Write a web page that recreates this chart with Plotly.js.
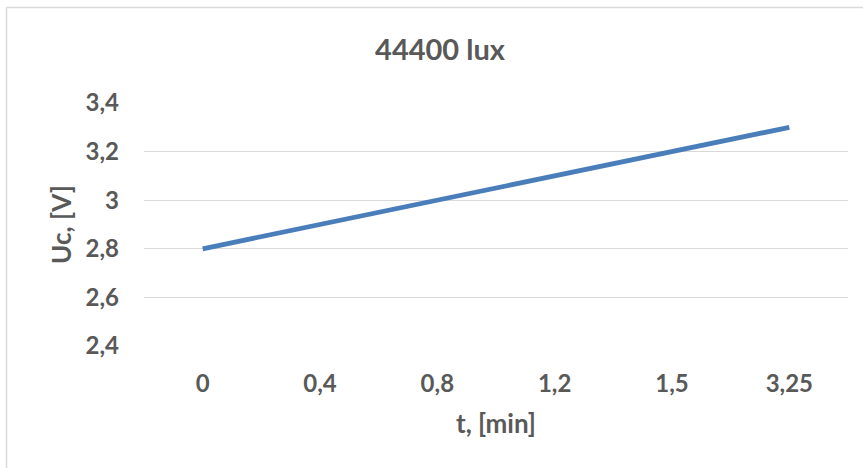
<!DOCTYPE html>
<html>
<head>
<meta charset="utf-8">
<script src="https://cdn.plot.ly/plotly-3.0.1.min.js"></script>
<style>html,body{margin:0;padding:0;background:#fff;}#chart{width:863px;height:468px;}</style>
</head>
<body>
<div id="chart"></div>
<script>
const tLabels = ['0', '0,4', '0,8', '1,2', '1,5', '3,25'];
const ucValues = [2.8, 2.9, 3.0, 3.1, 3.2, 3.3];
const yTicks = [2.4, 2.6, 2.8, 3.0, 3.2, 3.4];
const titleText = '44400 lux';
const xTitle = 't, [min]';
const yTitle = 'Uc, [V]';

const fontFam = 'Lato, "Open Sans", sans-serif';
const txt = '#595959';

const trace = {
  x: tLabels,
  y: ucValues,
  type: 'scatter',
  mode: 'lines',
  line: {color: '#4a7ebb', width: 4.8},
  hoverinfo: 'skip'
};

const W = 863, H = 468, L = 144, R = 15, T = 103, B = 122;
const pw = W - L - R, ph = H - T - B;
const px = v => (v - L) / pw;
const py = v => (H - B - v) / ph;

const layout = {
  width: W, height: H,
  margin: {l: L, r: R, t: T, b: B},
  paper_bgcolor: '#ffffff',
  plot_bgcolor: '#ffffff',
  separators: ', ',
  showlegend: false,
  font: {family: fontFam, color: txt},
  title: {
    text: '<b>' + titleText + '</b>',
    font: {size: 29, color: txt, family: fontFam},
    x: 440 / W, xanchor: 'center',
    y: 1 - 50 / H, yanchor: 'middle'
  },
  xaxis: {
    type: 'category',
    range: [-0.5, tLabels.length - 0.5],
    showgrid: false,
    zeroline: false,
    showline: false,
    ticks: '',
    ticklabelstandoff: 21,
    tickfont: {size: 24, color: txt, family: fontFam, weight: 'bold'},
    title: {text: '<b>' + xTitle + '</b>', font: {size: 26, color: txt, family: fontFam}, standoff: 18}
  },
  yaxis: {
    range: [2.4, 3.4],
    tickvals: yTicks,
    showgrid: true,
    gridcolor: '#d9d9d9',
    gridwidth: 1,
    zeroline: false,
    showline: false,
    ticks: '',
    ticklabelstandoff: 24,
    tickfont: {size: 24, color: txt, family: fontFam, weight: 'bold'},
    title: {text: '<b>' + yTitle + '</b>', font: {size: 26, color: txt, family: fontFam}, standoff: 6}
  },
  shapes: [
    {type: 'line', xref: 'paper', yref: 'paper',
     x0: px(6.5), x1: px(6.5), y0: py(470), y1: py(7.5),
     line: {color: '#d9d9d9', width: 1.5}, layer: 'below'},
    {type: 'line', xref: 'paper', yref: 'paper',
     x0: px(6.5), x1: px(866), y0: py(7.5), y1: py(7.5),
     line: {color: '#d9d9d9', width: 1.5}, layer: 'below'}
  ]
};

Plotly.newPlot('chart', [trace], layout, {displayModeBar: false, staticPlot: true});
</script>
</body>
</html>
